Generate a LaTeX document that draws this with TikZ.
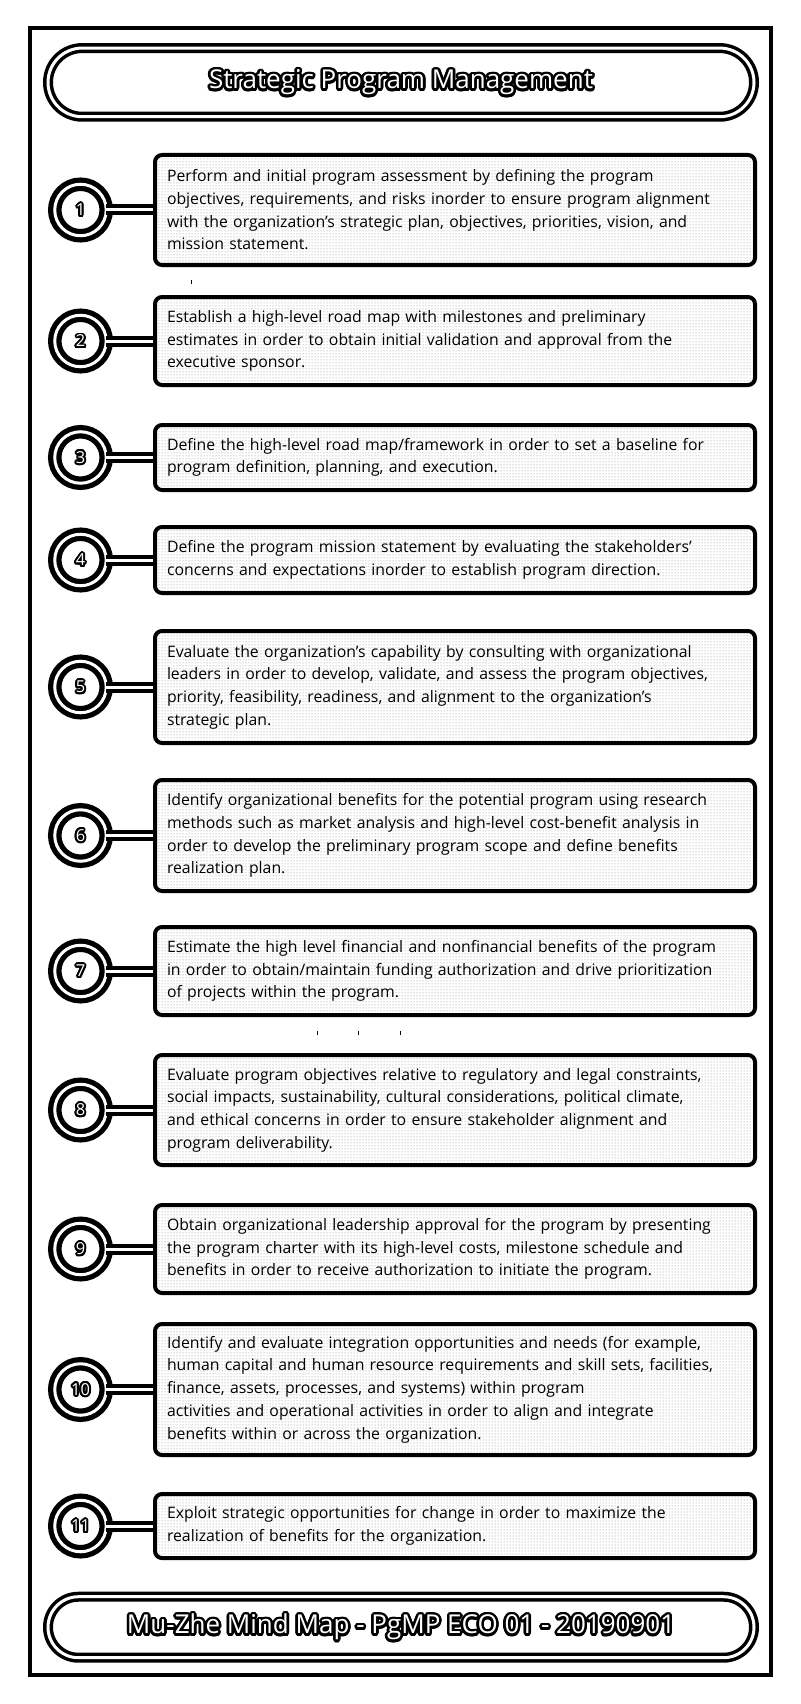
\documentclass[tikz,border=0pt]{standalone}
\usepackage{fontspec}
\setmainfont{Open Sans}
\usetikzlibrary{patterns,shapes.misc}

% white lettering with a black halo: black copies offset on a small circle, white text on top
\newcommand\halo[2][2.4]{%
  \foreach \hA in {0,20,...,340}{%
    \rlap{\hspace{\fpeval{#1*cosd(\hA)}pt}\raisebox{\fpeval{#1*sind(\hA)}pt}{\textcolor{black}{#2}}}}%
  \textcolor{white}{#2}}

\tikzset{
  frame/.style={line width=4pt},
  pill/.style={rounded rectangle, draw, line width=3.5pt, double=white, double distance=3pt,
    minimum width=706pt, inner sep=0pt, font=\fontsize{26}{30}\selectfont},
  ring/.style={circle, draw, fill=white, line width=5.25pt, double=white, double distance=3pt,
    minimum size=51.5pt, inner sep=0pt, outer sep=0pt, font=\fontsize{16.5}{18}\selectfont},
  textbox/.style={rectangle, rounded corners=7pt, draw, line width=4pt,
    pattern=dots, pattern color=black!45,
    text width=576pt, inner xsep=12pt, inner ysep=0pt, align=left,
    font=\fontsize{15.8}{22.7}\selectfont},
  link/.style={line width=4pt, double=white, double distance=3pt},
  speck/.style={line width=1pt},
}

\begin{document}
\begin{tikzpicture}[x=1pt,y=-1pt]
  \fill[white] (0,0) rectangle (800,1704);
  \useasboundingbox (0,0) rectangle (800,1704);

  % outer frame
  \draw[frame] (29.5,28) rectangle (770.5,1674.5);

  % heading and footer
  \node[pill, minimum height=68.7pt] (title) at (401,82.4)
    {\halo[2.6]{Strategic Program Management}};
  \node[pill, minimum height=61pt] (footer) at (401,1627.2)
    {\halo[2.6]{Mu-Zhe Mind Map - PgMP ECO 01 - 20190901}};

  % steps
  \node[textbox, minimum height=110pt] (b1) at (455,210) {%
    Perform and initial program assessment by defining the program\\
    objectives, requirements, and risks inorder to ensure program alignment\\
    with the organization's strategic plan, objectives, priorities, vision, and\\
    mission statement.};
  \node[ring] (n1) at (80.5,210) {\halo[2]{1}};
  \draw[link] (n1.east) -- (b1.west);

  \node[textbox, minimum height=88pt] (b2) at (455,341) {%
    Establish a high-level road map with milestones and preliminary\\
    estimates in order to obtain initial validation and approval from the\\
    executive sponsor.};
  \node[ring] (n2) at (80.5,341) {\halo[2]{2}};
  \draw[link] (n2.east) -- (b2.west);

  \node[textbox, minimum height=65pt] (b3) at (455,457.5) {%
    Define the high-level road map/framework in order to set a baseline for\\
    program definition, planning, and execution.};
  \node[ring] (n3) at (80.5,457.5) {\halo[2]{3}};
  \draw[link] (n3.east) -- (b3.west);

  \node[textbox, minimum height=66pt] (b4) at (455,560) {%
    Define the program mission statement by evaluating the stakeholders'\\
    concerns and expectations inorder to establish program direction.};
  \node[ring] (n4) at (80.5,560) {\halo[2]{4}};
  \draw[link] (n4.east) -- (b4.west);

  \node[textbox, minimum height=112pt] (b5) at (455,687) {%
    Evaluate the organization's capability by consulting with organizational\\
    leaders in order to develop, validate, and assess the program objectives,\\
    priority, feasibility, readiness, and alignment to the organization’s\\
    strategic plan.};
  \node[ring] (n5) at (80.5,687) {\halo[2]{5}};
  \draw[link] (n5.east) -- (b5.west);

  \node[textbox, minimum height=111pt] (b6) at (455,835.5) {%
    Identify organizational benefits for the potential program using research\\
    methods such as market analysis and high-level cost-benefit analysis in\\
    order to develop the preliminary program scope and define benefits\\
    realization plan.};
  \node[ring] (n6) at (80.5,835.5) {\halo[2]{6}};
  \draw[link] (n6.east) -- (b6.west);

  \node[textbox, minimum height=88pt] (b7) at (455,971) {%
    Estimate the high level financial and nonfinancial benefits of the program\\
    in order to obtain/maintain funding authorization and drive prioritization\\
    of projects within the program.};
  \node[ring] (n7) at (80.5,971) {\halo[2]{7}};
  \draw[link] (n7.east) -- (b7.west);

  \node[textbox, minimum height=110pt] (b8) at (455,1110) {%
    Evaluate program objectives relative to regulatory and legal constraints,\\
    social impacts, sustainability, cultural considerations, political climate,\\
    and ethical concerns in order to ensure stakeholder alignment and\\
    program deliverability.};
  \node[ring] (n8) at (80.5,1110) {\halo[2]{8}};
  \draw[link] (n8.east) -- (b8.west);

  \node[textbox, minimum height=88pt] (b9) at (455,1249) {%
    Obtain organizational leadership approval for the program by presenting\\
    the program charter with its high-level costs, milestone schedule and\\
    benefits in order to receive authorization to initiate the program.};
  \node[ring] (n9) at (80.5,1249) {\halo[2]{9}};
  \draw[link] (n9.east) -- (b9.west);

  \node[textbox, minimum height=131pt] (b10) at (455,1389.5) {%
    Identify and evaluate integration opportunities and needs (for example,\\
    human capital and human resource requirements and skill sets, facilities,\\
    finance, assets, processes, and systems) within program\\
    activities and operational activities in order to align and integrate\\
    benefits within or across the organization.};
  \node[ring] (n10) at (80.5,1389.5) {\halo[2]{10}};
  \draw[link] (n10.east) -- (b10.west);

  \node[textbox, minimum height=64pt] (b11) at (455,1526) {%
    Exploit strategic opportunities for change in order to maximize the\\
    realization of benefits for the organization.};
  \node[ring] (n11) at (80.5,1526) {\halo[2]{11}};
  \draw[link] (n11.east) -- (b11.west);

  % stray specks
  \draw[speck] (191,280) -- (191,284);
  \draw[speck] (317,1031) -- (317,1035);
  \draw[speck] (358,1031) -- (358,1035);
  \draw[speck] (400,1031) -- (400,1035);
\end{tikzpicture}
\end{document}
